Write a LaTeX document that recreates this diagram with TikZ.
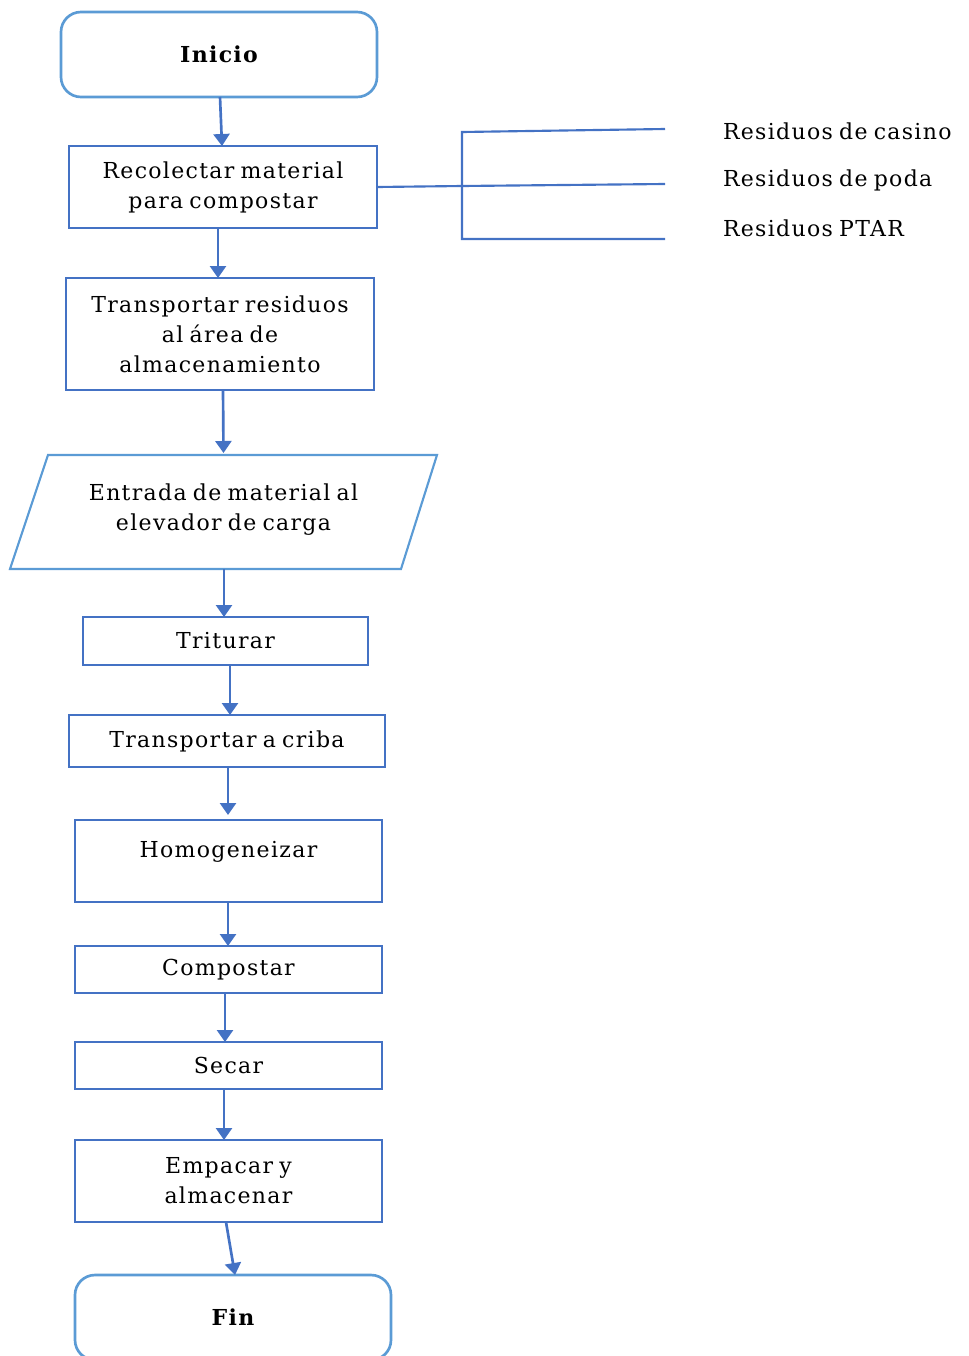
\documentclass[tikz,border=0pt]{standalone}
\usepackage{fontspec}
\setmainfont{DejaVu Serif}[LetterSpace=6,WordSpace=0.75]
\usetikzlibrary{arrows.meta,calc}
\definecolor{boxblue}{HTML}{4472C4}
\definecolor{lightblue}{HTML}{5B9BD5}
\begin{document}
\begin{tikzpicture}[x=0.75pt,y=-0.75pt,
  every node/.style={font=\fontsize{16.5}{22.5}\selectfont, align=center, inner sep=0pt, outer sep=0pt},
  procbox/.style={draw=boxblue, line width=2pt, fill=white},
  termbox/.style={draw=lightblue, line width=2pt, rounded corners=15pt, fill=white, font=\fontsize{16.5}{22.5}\selectfont\bfseries},
  flow/.style={draw=boxblue, line width=2pt, -{Triangle[width=12pt,length=9pt]}},
  bracket/.style={draw=boxblue, line width=1.6pt},
  lbl/.style={anchor=west}
]
\useasboundingbox (0,0) rectangle (968,1356);

\node[termbox, minimum width=316*0.75pt, minimum height=85*0.75pt] (inicio) at (219,54.5) {Inicio};
\node[procbox, minimum width=308*0.75pt, minimum height=82*0.75pt] (recol) at (223,187) {Recolectar material\\para compostar};
\node[procbox, minimum width=308*0.75pt, minimum height=112*0.75pt] (transp) at (220,334) {Transportar residuos\\al área de\\almacenamiento};
\node[minimum width=389*0.75pt, minimum height=114*0.75pt] (par) at (223.5,512) {\raisebox{2pt}[\height][\depth]{Entrada de material al}\\\raisebox{2pt}[\height][\depth]{elevador de carga}};
\draw[draw=lightblue, line width=1.6pt]
  ($(par.north west)+(19,0)$) -- ($(par.north east)+(19,0)$) --
  ($(par.south east)+(-17,0)$) -- ($(par.south west)+(-19,0)$) -- cycle;
\node[procbox, minimum width=285*0.75pt, minimum height=48*0.75pt] (trit) at (225.5,641) {Triturar};
\node[procbox, minimum width=316*0.75pt, minimum height=52*0.75pt] (criba) at (227,741) {Transportar a criba};
\node[procbox, minimum width=307*0.75pt, minimum height=82*0.75pt] (homo) at (228.5,861) {\raisebox{7pt}[\height][\depth]{Homogeneizar}};
\node[procbox, minimum width=307*0.75pt, minimum height=47*0.75pt] (compo) at (228.5,969.5) {Compostar};
\node[procbox, minimum width=307*0.75pt, minimum height=47*0.75pt] (secar) at (228.5,1065.5) {Secar};
\node[procbox, minimum width=307*0.75pt, minimum height=82*0.75pt] (empac) at (228.5,1181) {Empacar y\\almacenar};
\node[termbox, minimum width=316*0.75pt, minimum height=85*0.75pt] (fin) at (233,1317.5) {Fin};

\draw[flow] ($(inicio.south)+(1,0)$) -- ($(recol.north)+(-1,0)$);
\draw[flow] ($(recol.south)+(-5,0)$) -- ($(transp.north)+(-2,0)$);
\draw[flow] ($(transp.south)+(3,0)$) -- ($(par.north)+(0,-2)$);
\draw[flow] ($(par.south)+(0.5,0)$) -- ($(trit.north)+(-1.5,0)$);
\draw[flow] ($(trit.south)+(4.5,0)$) -- ($(criba.north)+(3,0)$);
\draw[flow] ($(criba.south)+(1,0)$) -- ($(homo.north)+(-0.5,-5)$);
\draw[flow] ($(homo.south)+(-0.5,0)$) -- ($(compo.north)+(-0.5,0)$);
\draw[flow] ($(compo.south)+(-3.5,0)$) -- ($(secar.north)+(-3.5,0)$);
\draw[flow] ($(secar.south)+(-4.5,0)$) -- ($(empac.north)+(-4.5,0)$);
\draw[flow] ($(empac.south)+(-2.5,0)$) -- ($(fin.north)+(2,0)$);

\coordinate (bj) at (462,186);
\coordinate (btop) at (462,132);
\coordinate (bbot) at (462,239);
\coordinate (e1) at (665,129);
\coordinate (e2) at (665,184);
\coordinate (e3) at (665,239);
\draw[bracket] (recol.east) -- (bj);
\draw[bracket] (e1) -- (btop) -- (bbot) -- (e3);
\draw[bracket] (bj) -- (e2);

\node[lbl] (casino) at (723,131) {Residuos de casino};
\node[lbl] (poda) at (723,180) {Residuos de poda};
\node[lbl] (ptar) at (723,228) {Residuos PTAR};
\end{tikzpicture}
\end{document}
